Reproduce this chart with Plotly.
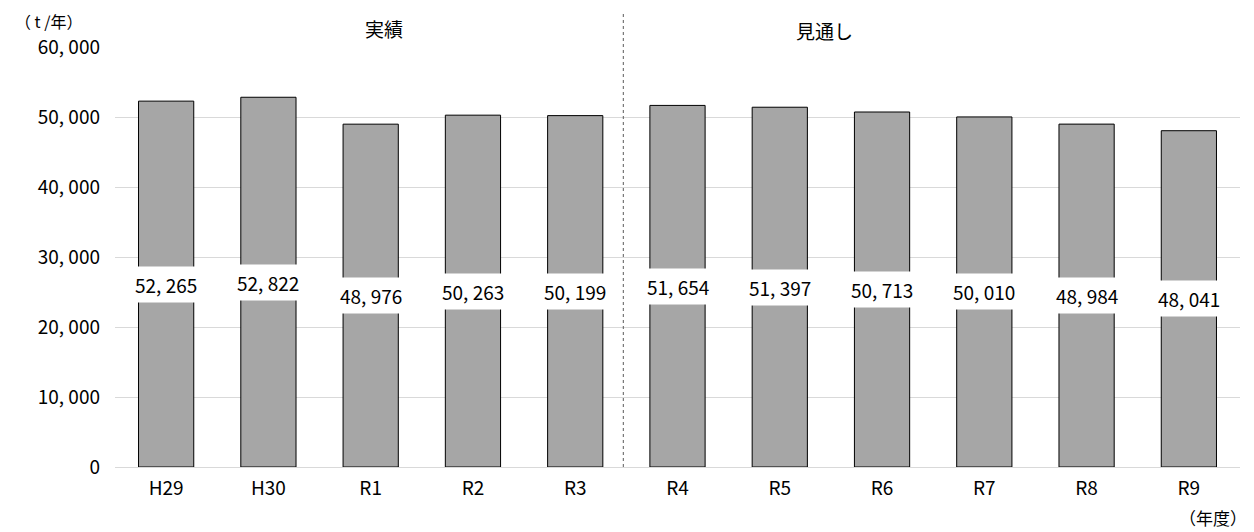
import plotly.graph_objects as go

categories = ["H29", "H30", "R1", "R2", "R3", "R4", "R5", "R6", "R7", "R8", "R9"]
values = [52265, 52822, 48976, 50263, 50199, 51654, 51397, 50713, 50010, 48984, 48041]
y_ticks = [0, 10000, 20000, 30000, 40000, 50000, 60000]

def fmt(v):
    return f"{v:,}".replace(",", ", ")

JP = "Noto Sans CJK JP"
NUM = "Noto Sans CJK JP"

fig = go.Figure()
fig.add_trace(go.Bar(
    x=categories, y=values,
    marker=dict(color="#a6a6a6", line=dict(color="#000000", width=1)),
    width=0.54, hoverinfo="x+y",
))

for c, v in zip(categories, values):
    fig.add_annotation(x=c, y=v / 2, text=fmt(v), showarrow=False,
                       bgcolor="white", borderpad=4, yanchor="middle",
                       font=dict(family=NUM, size=19, color="#000000"))

fig.add_shape(type="line", xref="x", yref="paper", x0=4.47, x1=4.47, y0=0, y1=1.083,
              line=dict(color="#595959", width=1, dash="dot"))

fig.add_annotation(xref="paper", yref="paper", x=0.2204, y=1.045, yanchor="middle",
                   text="実績", showarrow=False,
                   font=dict(family=JP, size=19, color="#000"))
fig.add_annotation(xref="paper", yref="paper", x=0.631, y=1.040, yanchor="middle",
                   text="見通し", showarrow=False,
                   font=dict(family=JP, size=19, color="#000"))
fig.add_annotation(xref="paper", yref="paper", x=-0.091, y=1.062, xanchor="left",
                   yanchor="middle", text="（ t /年）", showarrow=False,
                   font=dict(family=JP, size=16, color="#000"))
fig.add_annotation(xref="paper", yref="paper", x=1.008, y=-0.121, xanchor="right",
                   yanchor="middle", text="（年度）", showarrow=False,
                   font=dict(family=JP, size=17, color="#000"))

fig.update_layout(
    width=1246, height=524,
    margin=dict(l=107, r=14, t=39, b=65),
    plot_bgcolor="white", paper_bgcolor="white",
    showlegend=False, bargap=0.46,
    font=dict(family=NUM, size=19, color="#000"),
)
fig.update_xaxes(type="category", showline=True, linecolor="#d9d9d9", linewidth=1,
                 ticks="", ticklabelstandoff=4, tickfont=dict(family=NUM, size=19))
fig.update_yaxes(range=[0, 60000], tickvals=y_ticks, ticktext=[fmt(t) for t in y_ticks],
                 showgrid=True, gridcolor="#d9d9d9", gridwidth=1, zeroline=False,
                 showline=False, ticks="", ticklabelstandoff=14,
                 tickfont=dict(family=NUM, size=19))

fig.write_html("out.html")
